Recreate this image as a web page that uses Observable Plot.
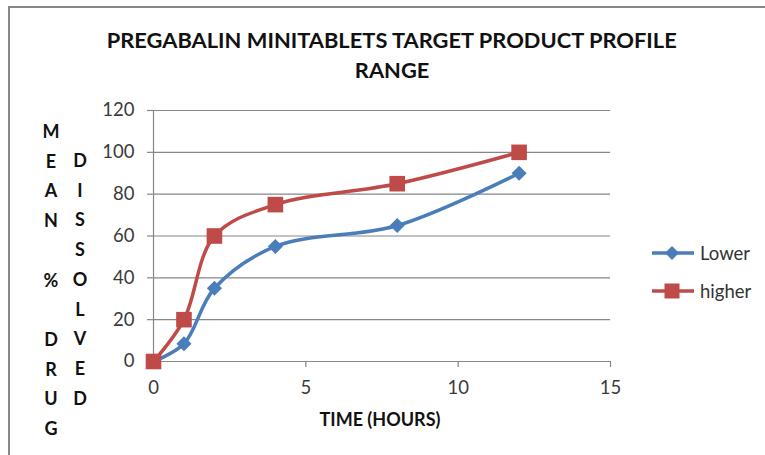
<!DOCTYPE html>
<html>
<head>
<meta charset="utf-8">
<script src="https://cdn.jsdelivr.net/npm/d3@7"></script>
<script src="https://cdn.jsdelivr.net/npm/@observablehq/plot@0.6"></script>
<style>
  html, body { margin: 0; padding: 0; background: #fff; }
  #wrap { position: relative; width: 765px; height: 455px; overflow: hidden; font-family: Lato, "Open Sans", sans-serif; }
  #frame { position: absolute; left: 8px; top: 6px; width: 900px; height: 600px; border-left: 2px solid #878787; border-top: 2px solid #878787; }
  #chart { position: absolute; left: 0; top: 0; }
  .title { position: absolute; left: 0; width: 784px; text-align: center; font-weight: bold; font-size: 20px; color: #111; white-space: nowrap; }
  .title span { display: inline-block; transform-origin: center; }
  .ycol { position: absolute; width: 30px; text-align: center; font-weight: bold; font-size: 18px; line-height: 29.7px; color: #111; white-space: pre; }
  #xlabel { position: absolute; left: 280px; width: 200px; top: 408px; text-align: center; font-weight: bold; font-size: 18px; color: #111; }
  .leg { position: absolute; left: 650px; height: 24px; display: flex; align-items: center; font-size: 18.5px; color: #333; }
  .leg svg { margin-right: 4px; }
</style>
</head>
<body>
<div id="wrap">
  <div id="frame"></div>
  <div id="chart"></div>
  <div class="title" id="t1" style="top:28px"><span>PREGABALIN MINITABLETS TARGET PRODUCT PROFILE</span></div>
  <div class="title" id="t2" style="top:58px"><span>RANGE</span></div>
  <div class="ycol" id="ycol1" style="left:36px; top:117px"></div>
  <div class="ycol" id="ycol2" style="left:65px; top:146px"></div>
  <div id="xlabel">TIME (HOURS)</div>
  <div id="legend"></div>
</div>
<script>
// ---- data ----
const hours = [0, 1, 2, 4, 8, 12];
const lower = [0, 8.5, 35, 55, 65, 90];
const higher = [0, 20, 60, 75, 85, 100];
const seriesNames = ["Lower", "higher"];
const seriesColors = ["#4A7EBB", "#BE4B48"];
const xTicks = [0, 5, 10, 15];
const yTicks = [0, 20, 40, 60, 80, 100, 120];
const yLabelCol1 = ["M", "E", "A", "N", "", "%", "", "D", "R", "U", "G"];
const yLabelCol2 = ["D", "I", "S", "S", "O", "L", "V", "E", "D"];

const rows = [];
hours.forEach((h, i) => rows.push({hour: h, value: lower[i], series: seriesNames[0]}));
hours.forEach((h, i) => rows.push({hour: h, value: higher[i], series: seriesNames[1]}));
const lowerRows = rows.filter(d => d.series === seriesNames[0]);
const higherRows = rows.filter(d => d.series === seriesNames[1]);

const grid = "#868686";
const plot = Plot.plot({
  width: 765,
  height: 455,
  marginLeft: 153,
  marginRight: 155,
  marginTop: 110,
  marginBottom: 94,
  style: {fontFamily: "Lato, 'Open Sans', sans-serif", fontSize: "18.5px", color: "#3a3a3a", background: "transparent"},
  x: {domain: [0, 15], ticks: xTicks, tickSize: 6, tickPadding: 13, label: null, line: false},
  y: {domain: [0, 120], ticks: yTicks, tickSize: 6, tickPadding: 13, label: null, line: false},
  marks: [
    Plot.ruleY(yTicks, {stroke: grid, strokeWidth: 1.2}),
    Plot.ruleX([0], {stroke: grid, strokeWidth: 1.2}),
    Plot.line(lowerRows, {x: "hour", y: "value", stroke: seriesColors[0], strokeWidth: 3.5, curve: "catmull-rom"}),
    Plot.dot(lowerRows, {x: "hour", y: "value", symbol: "diamond2", r: 6.8, fill: seriesColors[0], stroke: null}),
    Plot.line(higherRows, {x: "hour", y: "value", stroke: seriesColors[1], strokeWidth: 3.5, curve: "catmull-rom"}),
    Plot.dot(higherRows, {x: "hour", y: "value", symbol: "square", r: 8.8, fill: seriesColors[1], stroke: null})
  ]
});
plot.querySelectorAll("g[aria-label='x-axis tick'], g[aria-label='y-axis tick']").forEach(g => { g.setAttribute("stroke", grid); g.setAttribute("stroke-width", "1.2"); });
document.getElementById("chart").appendChild(plot);

document.getElementById("ycol1").textContent = yLabelCol1.join("\n");
document.getElementById("ycol2").textContent = yLabelCol2.join("\n");

// legend
const legend = document.getElementById("legend");
seriesNames.forEach((name, i) => {
  const div = document.createElement("div");
  div.className = "leg";
  div.style.top = (241 + i * 38) + "px";
  const sym = i === 0
    ? `<path d="M22,5 L29,12 L22,19 L15,12 Z" fill="${seriesColors[i]}"/>`
    : `<rect x="14.5" y="4.5" width="15" height="15" fill="${seriesColors[i]}"/>`;
  div.innerHTML = `<svg width="46" height="24"><line x1="2" y1="12" x2="44" y2="12" stroke="${seriesColors[i]}" stroke-width="3.5"/>${sym}</svg><span>${name}</span>`;
  legend.appendChild(div);
});

// fit title line to reference width
const s1 = document.querySelector("#t1 span");
const w1 = s1.getBoundingClientRect().width;
const k = 570 / w1;
s1.style.transform = `scaleX(${k})`;
document.querySelector("#t2 span").style.transform = `scaleX(${k})`;
</script>
</body>
</html>
